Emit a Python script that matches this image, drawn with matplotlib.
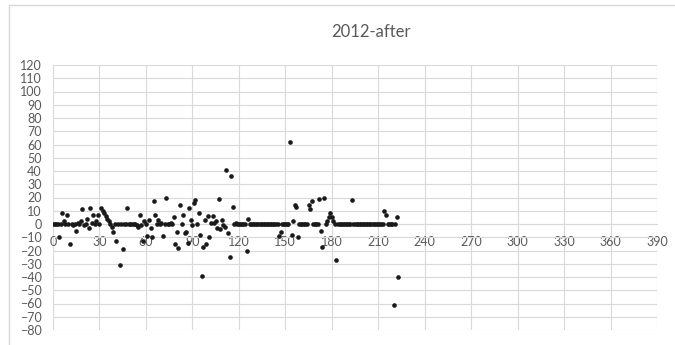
import matplotlib.pyplot as plt
from matplotlib.patches import Rectangle

titulo = "2012-after"

# one reading per x position, 0..223
y_vals = [
    0, 0, 0, 0, -10, 0, 8, 2, 0, 7,
    0, -15, 0, -1, 0, -5, 1, 0, 2, 11,
    -1, 0, 4, -3, 12, 1, 7, 0, 2, 7,
    0, 12, 10, 8, 6, 4, 2, 0, -2, -6,
    0, -13, 0, -31, 0, -19, 0, 0, 12, 0,
    0, 0, 0, 0, -1, -2, 7, -1, -13, 2,
    0, -9, 3, -3, -10, 17, 7, 0, 3, 0,
    1, -9, 0, 20, 0, 0, 1, 0, 5, -15,
    -6, -18, 14, 0, 7, -7, -6, -14, 12, 3,
    -1, 16, 18, 0, 8, -8, -39, -17, 3, -15,
    6, -10, 1, 6, 1, 2, -3, 19, -4, 3,
    -1, -2, 41, -7, -25, 36, 13, 0, 1, 0,
    0, 0, 0, 0, 0, -20, 4, 0, 0, 0,
    0, 0, 0, 0, 0, 0, 0, 0, 0, 0,
    0, 0, 0, 0, 0, 0, -9, -6, 0, 0,
    0, 0, 0, 62, -8, 2, 14, 13, -10, 0,
    0, 0, 0, 0, 0, 14, 11, 17, 0, 0,
    0, 0, 19, -5, -17, 20, 0, 2, 5, 8,
    5, 2, 0, -27, 0, 0, 0, 0, 0, 0,
    0, 0, 0, 18, 0, 0, 0, 0, 0, 0,
    0, 0, 0, 0, 0, 0, 0, 0, 0, 0,
    0, 0, 0, 0, 10, 7, 0, 0, 0, 0,
    -61, 0, 5, -40,
]
x_vals = list(range(len(y_vals)))

x_ticks = list(range(0, 391, 30))
y_ticks = list(range(-80, 121, 10))

cinza = '#595959'
grade = '#d9d9d9'

plt.rcParams['font.family'] = ['Lato', 'DejaVu Sans']

fig = plt.figure(figsize=(6.75, 3.45), dpi=100)
fig.patches.append(Rectangle((9 / 675, -0.05), 1.1, 1 - 5 / 345 + 0.05,
                             transform=fig.transFigure, fill=False,
                             edgecolor=grade, linewidth=1.0))

ax = fig.add_axes([53 / 675, 1 - 330 / 345, 604 / 675, 265 / 345])
ax.scatter(x_vals, y_vals, s=11, color='#1a1a1a', zorder=3, linewidths=0)

ax.set_xlim(0, 390)
ax.set_ylim(-80, 120)
ax.set_xticks(x_ticks)
ax.set_yticks(y_ticks)
ax.grid(True, color=grade, linewidth=0.8)
ax.set_axisbelow(True)

for lado in ['top', 'right', 'left']:
    ax.spines[lado].set_visible(False)
ax.spines['bottom'].set_position(('data', 0))
ax.spines['bottom'].set_color(grade)
ax.spines['bottom'].set_linewidth(0.8)

ax.tick_params(axis='both', length=0, labelsize=9, labelcolor=cinza)
ax.tick_params(axis='x', pad=9)
ax.tick_params(axis='y', pad=8)

fig.text(371 / 675, 1 - 32 / 345, titulo, ha='center', va='center',
         fontsize=12, color=cinza)

fig.savefig('out.png', dpi=100)
